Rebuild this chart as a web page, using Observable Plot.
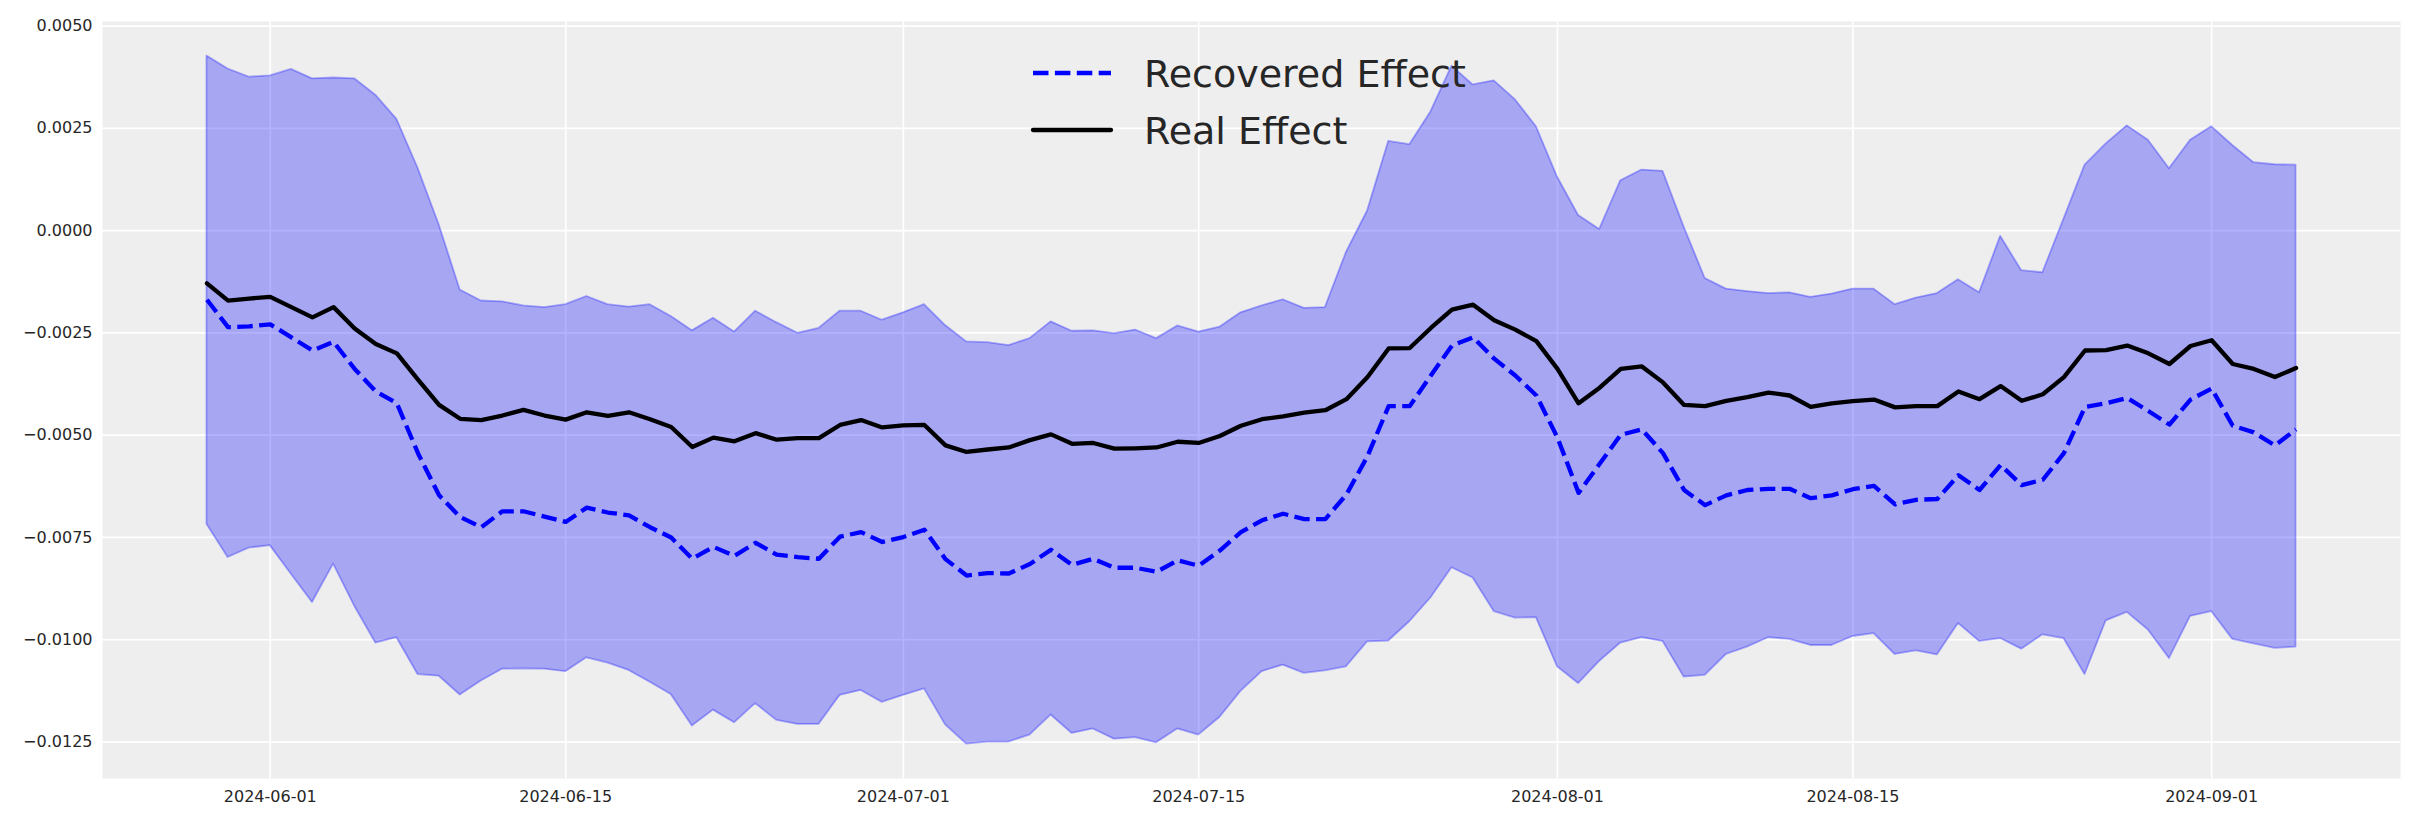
<!DOCTYPE html>
<html>
<head>
<meta charset="utf-8">
<script src="https://cdn.jsdelivr.net/npm/d3@7"></script>
<script src="https://cdn.jsdelivr.net/npm/@observablehq/plot@0.6"></script>
<style>
  body { margin: 0; background: #ffffff; }
  #chart { width: 2423px; height: 823px; }
</style>
</head>
<body>
<div id="chart"></div>
<script>
// ---- data (values in thousandths, i.e. ×1e-3) ----
const startDate = "2024-05-29";

const upperBand = [
  4.27, 3.95, 3.75, 3.78, 3.94, 3.71, 3.73, 3.71, 3.31, 2.72,
  1.53, 0.15, -1.45, -1.72, -1.74, -1.84, -1.88, -1.81, -1.61, -1.81,
  -1.87, -1.81, -2.10, -2.45, -2.14, -2.48, -1.97, -2.25, -2.51, -2.39,
  -1.97, -1.97, -2.19, -2.01, -1.81, -2.32, -2.72, -2.74, -2.81, -2.64,
  -2.23, -2.46, -2.45, -2.52, -2.43, -2.64, -2.33, -2.48, -2.36, -2.01,
  -1.84, -1.69, -1.90, -1.88, -0.53, 0.48, 2.18, 2.10, 2.90, 4.02,
  3.56, 3.66, 3.20, 2.54, 1.31, 0.37, 0.03, 1.22, 1.48, 1.45,
  0.09, -1.17, -1.43, -1.49, -1.54, -1.52, -1.63, -1.55, -1.43, -1.43,
  -1.81, -1.65, -1.54, -1.20, -1.52, -0.14, -0.98, -1.03, 0.28, 1.60,
  2.12, 2.56, 2.21, 1.51, 2.21, 2.54, 2.08, 1.66, 1.61, 1.60
];

const lowerBand = [
  -7.18, -7.99, -7.76, -7.70, -8.40, -9.09, -8.15, -9.18, -10.08, -9.95,
  -10.85, -10.89, -11.35, -11.01, -10.72, -10.71, -10.72, -10.78, -10.44, -10.57,
  -10.75, -11.04, -11.34, -12.11, -11.72, -12.03, -11.56, -11.97, -12.07, -12.07,
  -11.36, -11.24, -11.53, -11.36, -11.20, -12.08, -12.55, -12.50, -12.50, -12.33,
  -11.84, -12.29, -12.18, -12.43, -12.39, -12.52, -12.18, -12.33, -11.90, -11.26,
  -10.78, -10.62, -10.82, -10.76, -10.66, -10.05, -10.03, -9.56, -8.98, -8.24,
  -8.49, -9.31, -9.47, -9.46, -10.66, -11.07, -10.53, -10.08, -9.95, -10.04,
  -10.91, -10.87, -10.36, -10.18, -9.95, -9.99, -10.14, -10.14, -9.92, -9.85,
  -10.36, -10.27, -10.37, -9.60, -10.04, -9.97, -10.23, -9.88, -9.97, -10.85,
  -9.54, -9.33, -9.76, -10.46, -9.43, -9.31, -9.99, -10.10, -10.21, -10.18
];

const recoveredEffect = [
  -1.69, -2.36, -2.34, -2.29, -2.61, -2.93, -2.72, -3.38, -3.93, -4.22,
  -5.44, -6.47, -7.00, -7.25, -6.86, -6.86, -6.99, -7.12, -6.77, -6.89,
  -6.96, -7.25, -7.50, -8.02, -7.73, -7.95, -7.63, -7.92, -7.98, -8.02,
  -7.48, -7.37, -7.61, -7.49, -7.31, -8.03, -8.43, -8.37, -8.38, -8.15,
  -7.80, -8.17, -8.02, -8.24, -8.24, -8.34, -8.06, -8.19, -7.82, -7.37,
  -7.08, -6.92, -7.05, -7.05, -6.45, -5.51, -4.29, -4.29, -3.54, -2.81,
  -2.61, -3.13, -3.54, -4.03, -5.06, -6.41, -5.70, -4.99, -4.86, -5.44,
  -6.34, -6.71, -6.47, -6.34, -6.31, -6.31, -6.54, -6.47, -6.32, -6.24,
  -6.69, -6.58, -6.56, -5.98, -6.34, -5.73, -6.22, -6.09, -5.44, -4.31,
  -4.22, -4.09, -4.41, -4.74, -4.13, -3.86, -4.77, -4.93, -5.25, -4.86
];

const realEffect = [
  -1.29, -1.71, -1.66, -1.62, -1.87, -2.12, -1.87, -2.39, -2.77, -3.00,
  -3.64, -4.26, -4.60, -4.63, -4.52, -4.38, -4.52, -4.62, -4.44, -4.53,
  -4.44, -4.61, -4.80, -5.29, -5.06, -5.15, -4.95, -5.11, -5.07, -5.07,
  -4.75, -4.63, -4.81, -4.76, -4.75, -5.25, -5.41, -5.35, -5.30, -5.12,
  -4.98, -5.21, -5.19, -5.33, -5.32, -5.30, -5.16, -5.19, -5.02, -4.77,
  -4.61, -4.54, -4.45, -4.39, -4.12, -3.58, -2.88, -2.87, -2.38, -1.93,
  -1.81, -2.19, -2.42, -2.70, -3.38, -4.22, -3.84, -3.38, -3.32, -3.71,
  -4.26, -4.29, -4.16, -4.07, -3.96, -4.03, -4.31, -4.22, -4.17, -4.13,
  -4.32, -4.29, -4.29, -3.93, -4.12, -3.80, -4.16, -4.00, -3.58, -2.93,
  -2.92, -2.81, -3.00, -3.26, -2.82, -2.68, -3.26, -3.38, -3.58, -3.36
];

const xTickLabels = ["2024-06-01", "2024-06-15", "2024-07-01", "2024-07-15", "2024-08-01", "2024-08-15", "2024-09-01"];
const yTickValues = [0.005, 0.0025, 0, -0.0025, -0.005, -0.0075, -0.01, -0.0125];
const legendLabels = ["Recovered Effect", "Real Effect"];

// ---- build table ----
const t0 = new Date(startDate + "T00:00:00Z");
const dates = d3.utcDay.range(t0, d3.utcDay.offset(t0, realEffect.length));
const unit = 1e-3;
const table = dates.map((d, i) => ({
  date: d,
  upper: upperBand[i] * unit,
  lower: lowerBand[i] * unit,
  recovered: recoveredEffect[i] * unit,
  real: realEffect[i] * unit
}));

const xTicks = xTickLabels.map(s => new Date(s + "T00:00:00Z"));
const first = dates[0], last = dates[dates.length - 1];
const span = last - first;
const xDomain = [new Date(+first - 0.05 * span), new Date(+last + 0.05 * span)];
const yMin = d3.min(lowerBand) * unit, yMax = d3.max(upperBand) * unit;
const ySpan = yMax - yMin;
const yDomain = [yMin - 0.05 * ySpan, yMax + 0.05 * ySpan];

const textColor = "#262626";
const lineW = 4.3;
const dashPattern = "15.5,6.4";

const chart = Plot.plot({
  width: 2423,
  height: 823,
  marginLeft: 102,
  marginRight: 23,
  marginTop: 21,
  marginBottom: 45,
  style: { fontFamily: "DejaVu Sans", fontSize: "16px", color: textColor, background: "#ffffff", overflow: "visible" },
  x: { type: "utc", domain: xDomain },
  y: { domain: yDomain },
  marks: [
    Plot.frame({ fill: "#eeeeee", stroke: "none" }),
    Plot.gridX(xTicks, { stroke: "#ffffff", strokeOpacity: 1, strokeWidth: 1.7 }),
    Plot.gridY(yTickValues, { stroke: "#ffffff", strokeOpacity: 1, strokeWidth: 1.7 }),
    Plot.areaY(table, {
      x: "date", y1: "lower", y2: "upper",
      fill: "blue", fillOpacity: 0.3,
      stroke: "blue", strokeOpacity: 0.3, strokeWidth: 1.8
    }),
    Plot.lineY(table, { x: "date", y: "recovered", stroke: "blue", strokeWidth: lineW, strokeDasharray: dashPattern, strokeLinecap: "butt" }),
    Plot.lineY(table, { x: "date", y: "real", stroke: "black", strokeWidth: lineW }),
    Plot.axisX(xTicks, { tickSize: 0, tickPadding: 12, tickFormat: d3.utcFormat("%Y-%m-%d"), label: null, fill: textColor }),
    Plot.axisY(yTickValues, { tickSize: 0, tickPadding: 10, tickFormat: d3.format(".4f"), label: null, fill: textColor })
  ]
});

document.getElementById("chart").appendChild(chart);

// ---- legend (inside plot area, top center) ----
const svg = d3.select(chart);
const lg = svg.append("g")
  .attr("font-family", "DejaVu Sans")
  .attr("font-size", 38)
  .attr("fill", textColor)
  .attr("text-anchor", "start");
const legendItems = [
  { label: legendLabels[0], stroke: "blue", dash: dashPattern, cap: "butt", y: 73 },
  { label: legendLabels[1], stroke: "black", dash: null, cap: "round", y: 130 }
];
legendItems.forEach(it => {
  lg.append("line")
    .attr("x1", 1033).attr("x2", 1111)
    .attr("y1", it.y).attr("y2", it.y)
    .attr("stroke", it.stroke).attr("stroke-width", lineW)
    .attr("stroke-linecap", it.cap)
    .attr("stroke-dasharray", it.dash);
  lg.append("text")
    .attr("x", 1144).attr("y", it.y)
    .attr("dy", "0.36em")
    .attr("text-anchor", "start")
    .text(it.label);
});
</script>
</body>
</html>
